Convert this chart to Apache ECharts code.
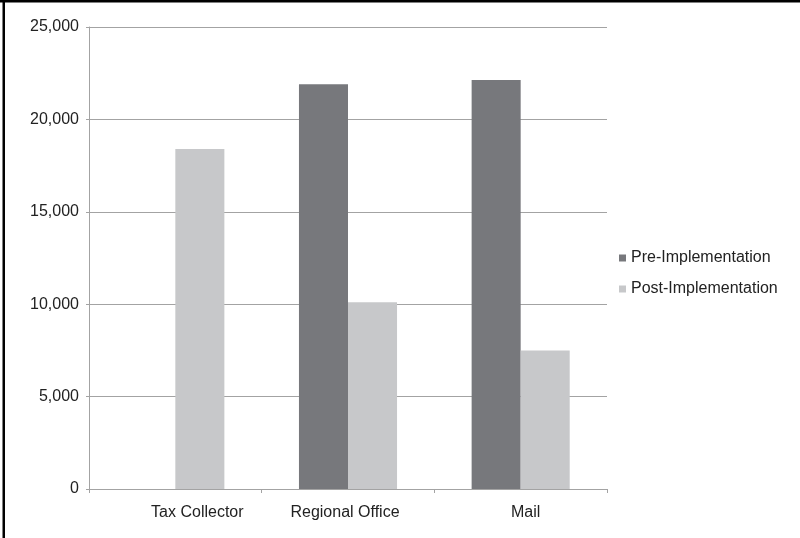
<!DOCTYPE html>
<html>
<head>
<meta charset="utf-8">
<script src="https://cdn.jsdelivr.net/npm/echarts@6/dist/echarts.min.js"></script>
<style>
html,body{margin:0;padding:0;background:#fff;}
#chart{width:800px;height:538px;}
</style>
</head>
<body>
<div id="chart"></div>
<script>
var categories = ['Tax Collector', 'Regional Office', 'Mail'];
var seriesNames = ['Pre-Implementation', 'Post-Implementation'];
var preValues = [0, 21900, 22130];
var postValues = [18400, 10100, 7500];
var yTicks = [0, 5000, 10000, 15000, 20000, 25000];

// label horizontal nudges (layout only), as in the reference
var labelPads = [[0, 0, 0, 44], [0, 6, 0, 0], [0, 0, 0, 10]];

var chart = echarts.init(document.getElementById('chart'), null, {renderer: 'canvas'});
var font = 'Liberation Sans, Arial, sans-serif';
var axisGray = '#a3a3a3';
var fs = 16;
chart.setOption({
  animation: false,
  backgroundColor: '#fff',
  graphic: [
    {type: 'rect', shape: {x: 0, y: 0, width: 800, height: 2.5}, style: {fill: '#000'}},
    {type: 'rect', shape: {x: 2.5, y: 0, width: 2.5, height: 538}, style: {fill: '#000'}}
  ],
  grid: {left: 89, right: 193, top: 27, bottom: 49, containLabel: false},
  legend: {
    orient: 'vertical',
    left: 614,
    top: 245,
    itemWidth: 7,
    itemHeight: 7,
    itemGap: 15,
    icon: 'rect',
    data: seriesNames,
    textStyle: {fontFamily: font, fontSize: fs, color: '#222'}
  },
  xAxis: {
    type: 'category',
    data: categories.map(function (c, i) {
      return {value: c, textStyle: {padding: labelPads[i]}};
    }),
    axisLine: {lineStyle: {color: axisGray, width: 1}},
    axisTick: {show: true, length: 4, lineStyle: {color: axisGray}},
    axisLabel: {fontFamily: font, fontSize: fs, color: '#222', margin: 16},
    splitLine: {show: false}
  },
  yAxis: {
    type: 'value',
    min: yTicks[0],
    max: yTicks[yTicks.length - 1],
    interval: yTicks[1] - yTicks[0],
    axisLine: {show: true, lineStyle: {color: axisGray, width: 1}},
    axisTick: {show: true, length: 3, lineStyle: {color: axisGray}},
    axisLabel: {
      fontFamily: font, fontSize: fs, color: '#222', margin: 10,
      formatter: function (v) { return v.toLocaleString('en-US'); }
    },
    splitLine: {show: true, lineStyle: {color: axisGray, width: 1}}
  },
  series: [
    {name: seriesNames[0], type: 'bar', data: preValues, barGap: '0%', barCategoryGap: '43.2%',
     itemStyle: {color: '#77787c'}},
    {name: seriesNames[1], type: 'bar', data: postValues, barGap: '0%', barCategoryGap: '43.2%',
     itemStyle: {color: '#c7c8ca'}}
  ]
});
</script>
</body>
</html>
